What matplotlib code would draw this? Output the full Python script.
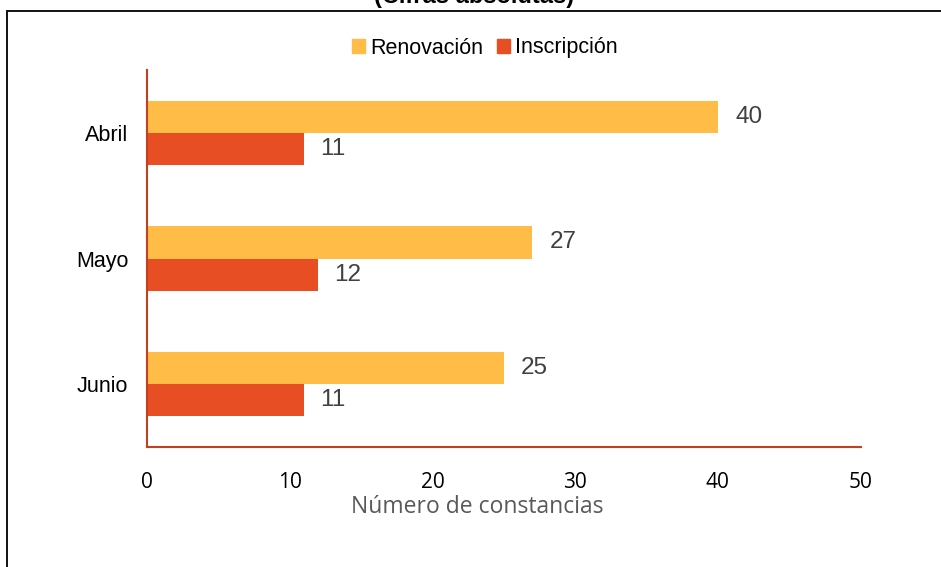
import matplotlib
matplotlib.use("Agg")
import matplotlib.pyplot as plt
from matplotlib.patches import Rectangle, Patch
import numpy as np

categories = ["Abril", "Mayo", "Junio"]
renovacion = [40, 27, 25]
inscripcion = [11, 12, 11]
series_names = ["Renovación", "Inscripción"]
xticks = [0, 10, 20, 30, 40, 50]
title = "(Cifras absolutas)"
xlabel = "Número de constancias"

c_ren = "#FFBC47"
c_ins = "#E84E23"
c_spine = "#C0401F"

W, H = 941, 567
fig = plt.figure(figsize=(W / 100, H / 100), dpi=100)

# outer frame (partially cropped)
fig.patches.append(Rectangle((7 / W, -0.1), 1.2, 1 - 11 / H + 0.1, transform=fig.transFigure,
                             fill=False, edgecolor="#111111", linewidth=1.4))

ax = fig.add_axes([147 / W, 1 - 447 / H, (860.5 - 147) / W, (447 - 70) / H])
y = np.arange(len(categories))
h = 0.256
ax.barh(y - h / 2, renovacion, height=h, color=c_ren)
ax.barh(y + h / 2, inscripcion, height=h, color=c_ins)
ax.set_ylim(len(categories) - 0.5, -0.5)
ax.set_xlim(0, 50)
ax.set_yticks(y)
ax.set_yticklabels(categories, fontsize=15.5, family=["Liberation Sans", "DejaVu Sans"])
ax.set_xticks(xticks)
ax.set_xticklabels([str(t) for t in xticks], fontsize=15, family=["Open Sans", "DejaVu Sans"])
ax.tick_params(axis="y", length=0, pad=13.5)
ax.tick_params(axis="x", length=0, pad=18)
for s in ["top", "right"]:
    ax.spines[s].set_visible(False)
for s in ["left", "bottom"]:
    ax.spines[s].set_color(c_spine)
    ax.spines[s].set_linewidth(1.5)

for yi, v in zip(y, renovacion):
    ax.annotate(str(v), (v, yi - h / 2), xytext=(12.5, 0), textcoords="offset points",
                va="center", ha="left", fontsize=17.5, color="#404040",
                family=["Liberation Sans", "DejaVu Sans"])
for yi, v in zip(y, inscripcion):
    ax.annotate(str(v), (v, yi + h / 2), xytext=(11.5, 0), textcoords="offset points",
                va="center", ha="left", fontsize=17.5, color="#404040",
                family=["Liberation Sans", "DejaVu Sans"])

fig.text(477.5 / W, 1 - 513 / H, xlabel, ha="center", va="baseline", fontsize=16.5,
         color="#595959", family=["Open Sans", "DejaVu Sans"])

fig.text(474 / W, 1 - 3 / H, title, ha="center", va="baseline", fontsize=17,
         fontweight="bold", family=["Liberation Sans", "DejaVu Sans"])

handles = [Patch(color=c_ren), Patch(color=c_ins)]
fig.legend(handles, series_names, loc="center", bbox_to_anchor=(485 / W, 1 - 48 / H),
           ncol=2, frameon=False, prop={"family": ["Liberation Sans", "DejaVu Sans"], "size": 15.5},
           handlelength=0.6, handleheight=0.6, handletextpad=0.25, columnspacing=0.6)

fig.savefig("out.png", dpi=100)
